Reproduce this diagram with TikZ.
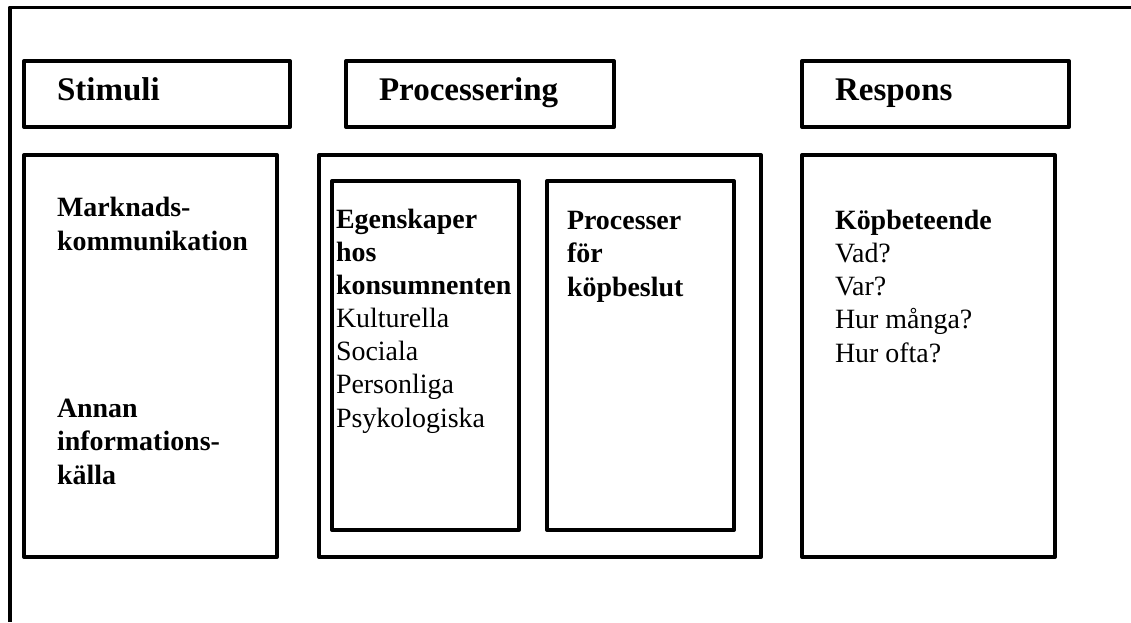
\documentclass[tikz,border=0pt]{standalone}
\usepackage{fontspec}
\setmainfont{Liberation Serif}
\usetikzlibrary{fit}

\begin{document}
\begin{tikzpicture}
 [x=0.02cm, y=-0.02cm, line width=0.08cm, line join=round,
   box/.style={draw, rectangle, inner sep=0pt},
   head/.style={anchor=base west, inner sep=0pt,
     font=\fontsize{18.8}{22}\selectfont\bfseries},
   txt/.style={anchor=base west, inner sep=0pt, align=left,
     font=\fontsize{15.9}{18.8}\selectfont}]
  \useasboundingbox (0,0) rectangle (1131,622);
  % outer frame
  \coordinate (frametop) at (1131,7.5);
  \coordinate (framecorner) at (10,7.5);
  \coordinate (framebottom) at (10,622);
  \draw (frametop) -- (framecorner) -- (framebottom);
  % headers
  \node[box, fit={(24,61) (290,127)}] (stimhead) {};
  \node[box, fit={(346,61) (614,127)}] (prochead) {};
  \node[box, fit={(802,61) (1069,127)}] (resphead) {};
  \node[head] (stimtitle) at (55,100) {Stimuli};
  \node[head] (proctitle) at (377,100) {Processering};
  \node[head] (resptitle) at (833,100) {Respons};
  % bodies
  \node[box, fit={(24,155) (277,557)}] (stimbody) {};
  \node[box, fit={(319,155) (761,557)}] (procbody) {};
  \node[box, fit={(332,181) (519,530)}] (egenbox) {};
  \node[box, fit={(547,181) (734,530)}] (beslutbox) {};
  \node[box, fit={(802,155) (1055,557)}] (respbody) {};
  % texts (base = last line)
  \node[txt] (markn) at (55,250) {\textbf{Marknads-}\\\textbf{kommunikation}};
  \node[txt] (annan) at (55,484) {\textbf{Annan}\\\textbf{informations-}\\\textbf{källa}};
  \node[txt] (egen) at (334,427) {\textbf{Egenskaper}\\\textbf{hos}\\\textbf{konsumnenten}\\
    Kulturella\\Sociala\\Personliga\\Psykologiska};
  \node[txt] (beslut) at (565,296) {\textbf{Processer}\\\textbf{för}\\\textbf{köpbeslut}};
  \node[txt] (kop) at (833,362) {\textbf{Köpbeteende}\\Vad?\\Var?\\Hur många?\\Hur ofta?};
\end{tikzpicture}
\end{document}
